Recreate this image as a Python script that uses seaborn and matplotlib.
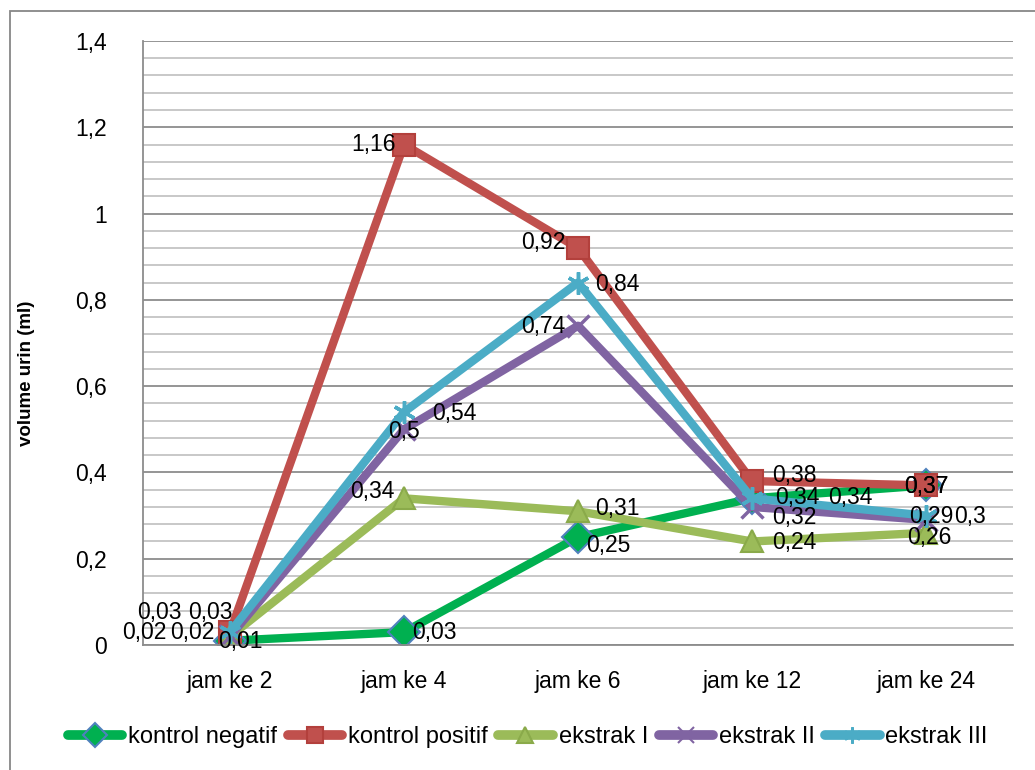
import numpy as np
import pandas as pd
import matplotlib
matplotlib.use("Agg")
import matplotlib.pyplot as plt
from matplotlib.lines import Line2D
from matplotlib.patches import Rectangle
from matplotlib.ticker import MultipleLocator, FuncFormatter
import seaborn as sns

jam = ["jam ke 2", "jam ke 4", "jam ke 6", "jam ke 12", "jam ke 24"]
series = ["kontrol negatif", "kontrol positif", "ekstrak I", "ekstrak II", "ekstrak III"]
kontrol_negatif = [0.01, 0.03, 0.25, 0.34, 0.37]
kontrol_positif = [0.03, 1.16, 0.92, 0.38, 0.37]
ekstrak_1 = [0.02, 0.34, 0.31, 0.24, 0.26]
ekstrak_2 = [0.02, 0.5, 0.74, 0.32, 0.29]
ekstrak_3 = [0.03, 0.54, 0.84, 0.34, 0.3]
values = [kontrol_negatif, kontrol_positif, ekstrak_1, ekstrak_2, ekstrak_3]

df = pd.DataFrame({
    "jam": jam * len(series),
    "volume": sum(values, []),
    "seri": [s for s in series for _ in jam],
})

colors = {"kontrol negatif": "#00B050", "kontrol positif": "#C0504D",
          "ekstrak I": "#9BBB59", "ekstrak II": "#8064A2", "ekstrak III": "#4BACC6"}
markers = {"kontrol negatif": "D", "kontrol positif": "s", "ekstrak I": "^",
           "ekstrak II": "x", "ekstrak III": (6, 2, 0)}
edges = {"kontrol negatif": "#4F81BD", "kontrol positif": "#B3403C",
         "ekstrak I": "#8AAA4A", "ekstrak II": "#8064A2", "ekstrak III": "#4BACC6"}

# label offsets in pixels (dx, dy, ha) for each point
label_pos = {
    "kontrol negatif": [(-12, -1, "left"), (8, 0, "left"), (8, -8, "left"), (23, 1, "left"), (0, -1, "center")],
    "kontrol positif": [(-93, 20, "left"), (-8, 0, "right"), (-13, 6, "right"), (20, 6, "left"), (0, -1, "center")],
    "ekstrak I": [(-108, 4, "left"), (-10, 7, "right"), (17, 3, "left"), (20, -1, "left"), (3, -5, "center")],
    "ekstrak II": [(-60, 4, "left"), (0, -2, "center"), (-13, -1, "right"), (20, -11, "left"), (-17, 3, "left")],
    "ekstrak III": [(-42, 20, "left"), (28, -1, "left"), (17, -2, "left"), (76, 1, "left"), (28, -1, "left")],
}

sns.set_style("white")
plt.rcParams["font.family"] = ["Liberation Sans", "DejaVu Sans"]
plt.rcParams.update({"text.color": "black", "axes.labelcolor": "black",
                     "xtick.color": "black", "ytick.color": "black"})

fig = plt.figure(figsize=(10.35, 7.7), dpi=100)
ax = fig.add_axes([0.1382, 0.1623, 0.8406, 0.7845])

# seaborn won't mix filled and line-art markers, so draw plain lines and set markers after
sns.lineplot(data=df, x="jam", y="volume", hue="seri",
             hue_order=series, palette=colors, sort=False, linewidth=6,
             legend=False, ax=ax)

for line, s in zip(ax.lines, series):
    line.set_marker(markers[s])
    line.set_markersize(16)
    line.set_markerfacecolor(colors[s])
    line.set_markeredgecolor(edges[s])
    line.set_markeredgewidth(2.5 if s in ("ekstrak II", "ekstrak III") else 1.5)
    line.set_solid_capstyle("round")
    line.set_solid_joinstyle("round")

for s, vals in zip(series, values):
    for i, v in enumerate(vals):
        dx, dy, ha = label_pos[s][i]
        ax.annotate(f"{v:g}".replace(".", ","), (i, v), xytext=(dx, dy),
                    textcoords="offset pixels", ha=ha, va="center",
                    fontsize=16.5, color="black", zorder=10)

ax.set_xlim(-0.5, 4.5)
ax.set_ylim(0, 1.4)
ax.yaxis.set_major_locator(MultipleLocator(0.2))
ax.yaxis.set_minor_locator(MultipleLocator(0.04))
ax.yaxis.set_major_formatter(FuncFormatter(lambda v, p: f"{round(v, 2):g}".replace(".", ",")))
ax.grid(which="major", axis="y", color="#8c8c8c", linewidth=1.3)
ax.grid(which="minor", axis="y", color="#c4c4c4", linewidth=1.3)
ax.grid(which="major", axis="x", visible=False)
ax.set_axisbelow(True)
for side in ("top", "right"):
    ax.spines[side].set_visible(False)
for side in ("left", "bottom"):
    ax.spines[side].set_color("#8c8c8c")
    ax.spines[side].set_linewidth(1.3)
ax.tick_params(axis="y", which="both", length=0, pad=26, labelsize=16.5)
ax.tick_params(axis="x", length=0, pad=18, labelsize=16.5)
ax.set_xlabel("")
ax.set_ylabel("volume urin (ml)", fontsize=13.5, fontweight="bold")
ax.yaxis.set_label_coords(-0.124, 0.45)

handles = [Line2D([], [], color=colors[s], lw=7, marker=markers[s], markersize=12,
                  markeredgecolor=edges[s], markeredgewidth=1.5,
                  solid_capstyle="round") for s in series]
fig.legend(handles, series, loc="center", bbox_to_anchor=(0.51, 0.043), ncol=5,
           frameon=False, fontsize=17, handlelength=2.3, handletextpad=0.25,
           columnspacing=0.45)

fig.patches.append(Rectangle((10 / 1035, -0.01), 1.02, 1 - 11 / 770 + 0.01,
                             transform=fig.transFigure, fill=False,
                             edgecolor="#878787", linewidth=1.3))

fig.savefig("out.png", dpi=100)
